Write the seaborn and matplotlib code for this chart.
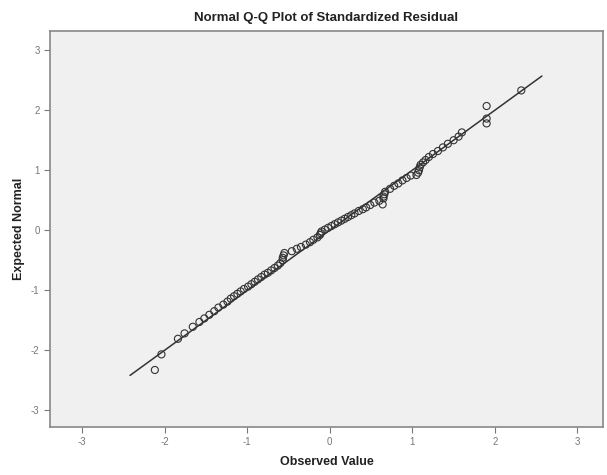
import matplotlib
matplotlib.use("Agg")
import matplotlib.pyplot as plt
import seaborn as sns
import pandas as pd

observed = [-2.12, -2.04, -1.84, -1.76, -1.66, -1.58, -1.52, -1.46, -1.40, -1.35,
            -1.29, -1.24, -1.20, -1.16, -1.12, -1.08, -1.04, -0.99, -0.95, -0.91,
            -0.87, -0.83, -0.79, -0.75, -0.71, -0.67, -0.63, -0.60, -0.57, -0.57,
            -0.56, -0.55, -0.46, -0.40, -0.35, -0.29, -0.24, -0.20, -0.15, -0.12,
            -0.11, -0.10, -0.06, -0.02, 0.02, 0.06, 0.10, 0.14, 0.18, 0.22,
            0.26, 0.30, 0.35, 0.40, 0.44, 0.49, 0.54, 0.60, 0.64, 0.65,
            0.65, 0.66, 0.67, 0.73, 0.78, 0.83, 0.88, 0.93, 0.98, 1.05,
            1.07, 1.08, 1.09, 1.10, 1.13, 1.16, 1.20, 1.25, 1.31, 1.37,
            1.43, 1.50, 1.56, 1.60, 1.90, 1.90, 1.90, 2.32]
expected = [-2.33, -2.07, -1.81, -1.72, -1.61, -1.53, -1.47, -1.41, -1.35, -1.29,
            -1.24, -1.19, -1.14, -1.10, -1.06, -1.02, -0.98, -0.94, -0.90, -0.86,
            -0.82, -0.78, -0.74, -0.71, -0.67, -0.63, -0.59, -0.55, -0.50, -0.46,
            -0.42, -0.38, -0.35, -0.31, -0.28, -0.24, -0.20, -0.16, -0.12, -0.08,
            -0.05, -0.02, 0.01, 0.04, 0.07, 0.10, 0.13, 0.16, 0.19, 0.22,
            0.25, 0.28, 0.32, 0.35, 0.38, 0.42, 0.46, 0.49, 0.43, 0.53,
            0.56, 0.60, 0.64, 0.69, 0.74, 0.78, 0.83, 0.87, 0.91, 0.92,
            0.96, 1.00, 1.05, 1.09, 1.13, 1.17, 1.22, 1.27, 1.32, 1.38,
            1.44, 1.50, 1.56, 1.63, 1.78, 1.86, 2.07, 2.33]
line_x = [-2.42, 2.57]
line_y = [-2.42, 2.57]
ticks = [-3, -2, -1, 0, 1, 2, 3]

sns.set_style("white")
plt.rcParams['font.family'] = ['Liberation Sans', 'DejaVu Sans']

fig = plt.figure(figsize=(6.07, 4.75), dpi=100)
ax = fig.add_axes([0.0824, 0.1011, 0.9110, 0.8336])
ax.set_facecolor("#f0f0f0")

pts = pd.DataFrame({"Observed Value": observed, "Expected Normal": expected})
ln = pd.DataFrame({"x": line_x, "y": line_y})
sns.lineplot(data=ln, x="x", y="y", ax=ax, color="#333333", linewidth=1.1)
sns.scatterplot(data=pts, x="Observed Value", y="Expected Normal", ax=ax,
                marker="o", s=26, facecolor="none", edgecolor="#333333",
                linewidth=0.8, zorder=3)

ax.set_xlim(-3.39, 3.31)
ax.set_ylim(-3.28, 3.32)
ax.set_xticks(ticks)
ax.set_yticks(ticks)
ax.set_xticklabels([str(t) for t in ticks], fontsize=7, color="#777777")
ax.set_yticklabels([str(t) for t in ticks], fontsize=7, color="#777777")
ax.tick_params(axis="both", direction="out", length=4, width=0.8, color="#777777",
               bottom=True, left=True)
for sp in ax.spines.values():
    sp.set_color("#888888")
    sp.set_linewidth(1.2)

ax.set_xlabel("Observed Value", fontsize=9, fontweight="bold", color="#222222", labelpad=6)
ax.set_ylabel("Expected Normal", fontsize=9, fontweight="bold", color="#222222", labelpad=4)
ax.set_title("Normal Q-Q Plot of Standardized Residual", fontsize=9.5,
             fontweight="bold", color="#222222", pad=7)

fig.savefig("out.png", dpi=100)
